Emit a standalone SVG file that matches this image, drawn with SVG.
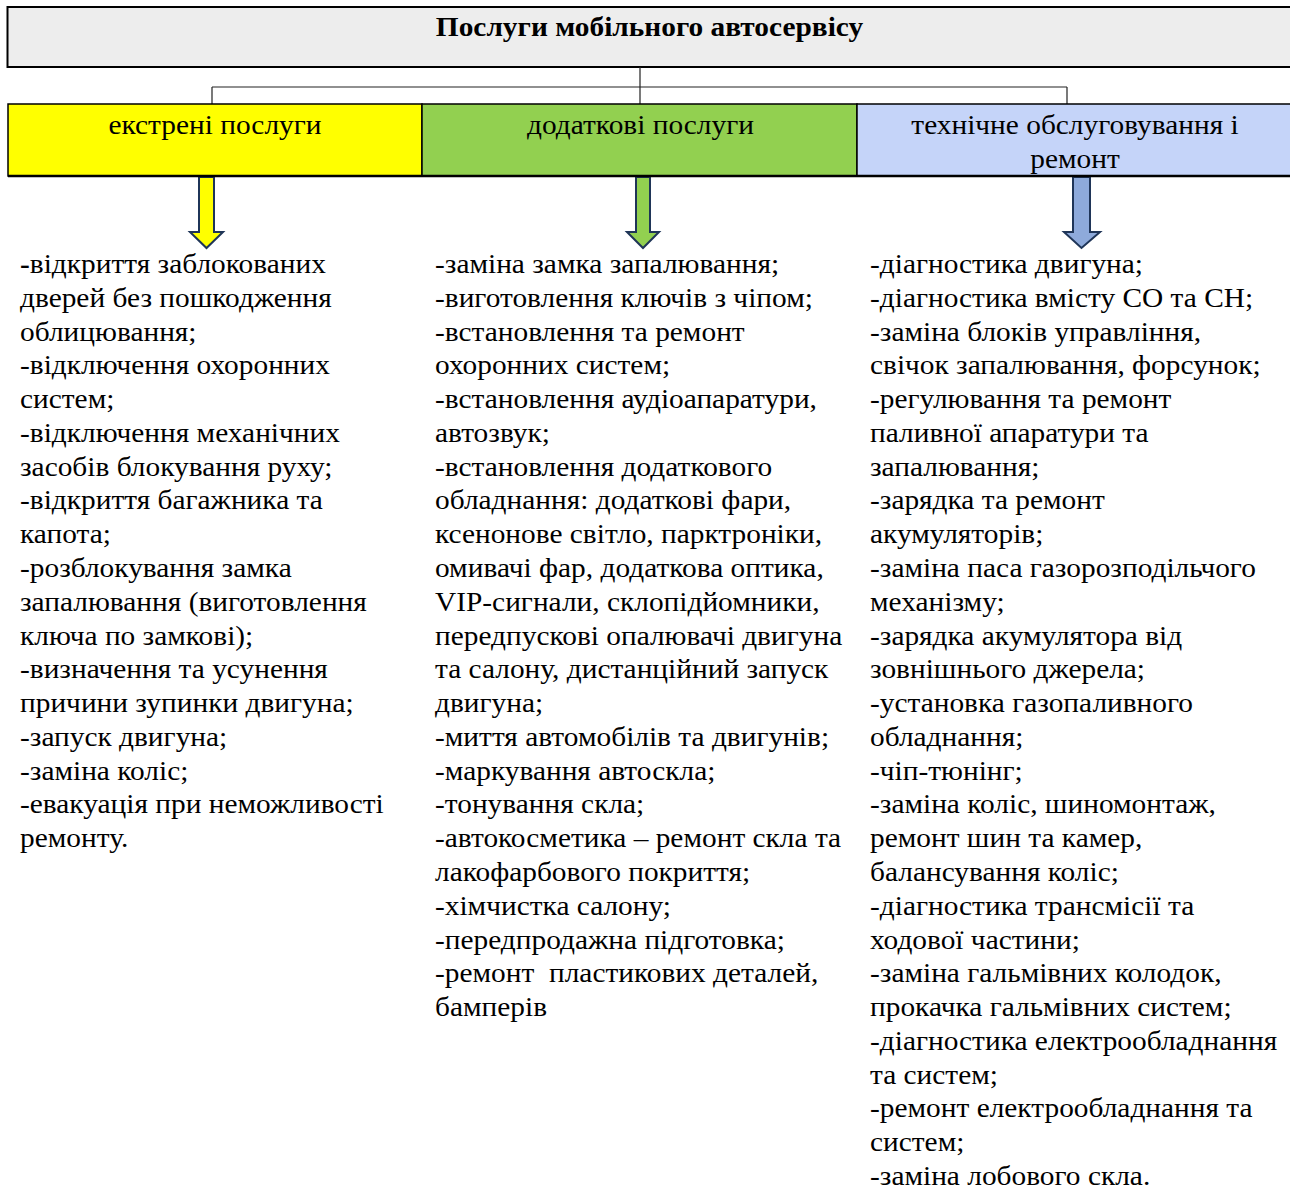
<svg xmlns="http://www.w3.org/2000/svg" width="1290" height="1190" viewBox="0 0 1290 1190">
<style>
  .t { font-family: "Liberation Serif", "Times New Roman", serif; font-size: 27px; fill: #000; }
  .h { font-family: "Liberation Serif", "Times New Roman", serif; font-size: 27px; font-weight: bold; fill: #000; }
  .c { font-family: "Liberation Serif", "Times New Roman", serif; font-size: 27px; fill: #000; }
  .conn { stroke: #222; stroke-width: 1.2; fill: none; }
  .arr { stroke: #1f3558; stroke-width: 2; stroke-linejoin: miter; }
</style>
<rect width="1290" height="1190" fill="#fff"/>

<g id="root">
  <rect x="7.5" y="7" width="1290" height="60" fill="#ededed" stroke="#000" stroke-width="2"/>
  <g transform="translate(649.5,0) scale(1.088,1)">
    <text class="h" x="0" y="36.5" text-anchor="middle">Послуги мобільного автосервісу</text>
  </g>
</g>

<g id="connectors">
  <path class="conn" d="M640 67 V104 M212 87 H1067 M212 87 V104 M1067 87 V104"/>
  <polygon class="arr" fill="#ffff00" points="199,177 214,177 214,232 223,232 206.5,248 190,232 199,232"/>
  <polygon class="arr" fill="#92d050" points="636,177 650,177 650,232 659,232 643,248 627,232 636,232"/>
  <polygon class="arr" fill="#8eaadb" points="1073,177 1090,177 1090,232 1100,232 1081.5,248 1064,232 1073,232"/>
</g>

<g id="cat-emergency">
  <rect x="8" y="104" width="414" height="72" fill="#ffff00" stroke="#000" stroke-width="1.5"/>
  <g transform="translate(215,0) scale(1.088,1)">
    <text class="c" x="0" y="134" text-anchor="middle">екстрені послуги</text>
  </g>
</g>
<g id="cat-additional">
  <rect x="422" y="104" width="435" height="72" fill="#92d050" stroke="#000" stroke-width="1.5"/>
  <g transform="translate(640.5,0) scale(1.088,1)">
    <text class="c" x="0" y="134" text-anchor="middle">додаткові послуги</text>
  </g>
</g>
<g id="cat-maintenance">
  <rect x="857" y="104" width="440" height="72" fill="#c5d4f9" stroke="#000" stroke-width="1.5"/>
  <g transform="translate(1075,0) scale(1.088,1)">
    <text class="c" x="0" y="134" text-anchor="middle">технічне обслуговування і</text>
    <text class="c" x="0" y="168" text-anchor="middle">ремонт</text>
  </g>
</g>
<path d="M8 176 H1290" stroke="#000" stroke-width="2.5"/>

<g id="list-emergency" transform="translate(20,0) scale(1.088,1)">
  <text class="t" x="0" y="273"><tspan font-weight="bold">-</tspan>відкриття заблокованих</text>
  <text class="t" x="0" y="306.8">дверей без пошкодження</text>
  <text class="t" x="0" y="340.6">облицювання;</text>
  <text class="t" x="0" y="374.3">-відключення охоронних</text>
  <text class="t" x="0" y="408.1">систем;</text>
  <text class="t" x="0" y="441.9">-відключення механічних</text>
  <text class="t" x="0" y="475.7">засобів блокування руху;</text>
  <text class="t" x="0" y="509.5">-відкриття багажника та</text>
  <text class="t" x="0" y="543.2">капота;</text>
  <text class="t" x="0" y="577">-розблокування замка</text>
  <text class="t" x="0" y="610.8">запалювання (виготовлення</text>
  <text class="t" x="0" y="644.6">ключа по замкові);</text>
  <text class="t" x="0" y="678.4">-визначення та усунення</text>
  <text class="t" x="0" y="712.1">причини зупинки двигуна;</text>
  <text class="t" x="0" y="745.9">-запуск двигуна;</text>
  <text class="t" x="0" y="779.7">-заміна коліс;</text>
  <text class="t" x="0" y="813.5">-евакуація при неможливості</text>
  <text class="t" x="0" y="847.3">ремонту.</text>
</g>

<g id="list-additional" transform="translate(435,0) scale(1.088,1)">
  <text class="t" x="0" y="273">-заміна замка запалювання;</text>
  <text class="t" x="0" y="306.8">-виготовлення ключів з чіпом;</text>
  <text class="t" x="0" y="340.6">-встановлення та ремонт</text>
  <text class="t" x="0" y="374.3">охоронних систем;</text>
  <text class="t" x="0" y="408.1">-встановлення аудіоапаратури,</text>
  <text class="t" x="0" y="441.9">автозвук;</text>
  <text class="t" x="0" y="475.7">-встановлення додаткового</text>
  <text class="t" x="0" y="509.5">обладнання: додаткові фари,</text>
  <text class="t" x="0" y="543.2">ксенонове світло, парктроніки,</text>
  <text class="t" x="0" y="577">омивачі фар, додаткова оптика,</text>
  <text class="t" x="0" y="610.8">VIP-сигнали, склопідйомники,</text>
  <text class="t" x="0" y="644.6">передпускові опалювачі двигуна</text>
  <text class="t" x="0" y="678.4">та салону, дистанційний запуск</text>
  <text class="t" x="0" y="712.1">двигуна;</text>
  <text class="t" x="0" y="745.9">-миття автомобілів та двигунів;</text>
  <text class="t" x="0" y="779.7">-маркування автоскла;</text>
  <text class="t" x="0" y="813.5">-тонування скла;</text>
  <text class="t" x="0" y="847.3">-автокосметика – ремонт скла та</text>
  <text class="t" x="0" y="881">лакофарбового покриття;</text>
  <text class="t" x="0" y="914.8">-хімчистка салону;</text>
  <text class="t" x="0" y="948.6">-передпродажна підготовка;</text>
  <text class="t" x="0" y="982.4" xml:space="preserve">-ремонт  пластикових деталей,</text>
  <text class="t" x="0" y="1016.2">бамперів</text>
</g>

<g id="list-maintenance" transform="translate(870,0) scale(1.088,1)">
  <text class="t" x="0" y="273">-діагностика двигуна;</text>
  <text class="t" x="0" y="306.8">-діагностика вмісту СО та СН;</text>
  <text class="t" x="0" y="340.6">-заміна блоків управління,</text>
  <text class="t" x="0" y="374.3">свічок запалювання, форсунок;</text>
  <text class="t" x="0" y="408.1">-регулювання та ремонт</text>
  <text class="t" x="0" y="441.9">паливної апаратури та</text>
  <text class="t" x="0" y="475.7">запалювання;</text>
  <text class="t" x="0" y="509.5">-зарядка та ремонт</text>
  <text class="t" x="0" y="543.2">акумуляторів;</text>
  <text class="t" x="0" y="577">-заміна паса газорозподільчого</text>
  <text class="t" x="0" y="610.8">механізму;</text>
  <text class="t" x="0" y="644.6">-зарядка акумулятора від</text>
  <text class="t" x="0" y="678.4">зовнішнього джерела;</text>
  <text class="t" x="0" y="712.1">-установка газопаливного</text>
  <text class="t" x="0" y="745.9">обладнання;</text>
  <text class="t" x="0" y="779.7">-чіп-тюнінг;</text>
  <text class="t" x="0" y="813.5">-заміна коліс, шиномонтаж,</text>
  <text class="t" x="0" y="847.3">ремонт шин та камер,</text>
  <text class="t" x="0" y="881">балансування коліс;</text>
  <text class="t" x="0" y="914.8">-діагностика трансмісії та</text>
  <text class="t" x="0" y="948.6">ходової частини;</text>
  <text class="t" x="0" y="982.4">-заміна гальмівних колодок,</text>
  <text class="t" x="0" y="1016.2">прокачка гальмівних систем;</text>
  <text class="t" x="0" y="1049.9">-діагностика електрообладнання</text>
  <text class="t" x="0" y="1083.7">та систем;</text>
  <text class="t" x="0" y="1117.5">-ремонт електрообладнання та</text>
  <text class="t" x="0" y="1151.3">систем;</text>
  <text class="t" x="0" y="1185.1">-заміна лобового скла.</text>
</g>
</svg>
